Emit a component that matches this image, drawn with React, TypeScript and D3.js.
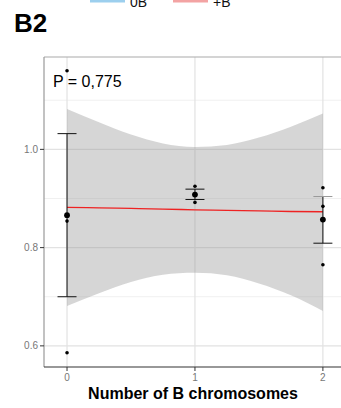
import * as d3 from "d3";

// Number of B chromosomes per group, individual values
const groups = [0, 1, 2];
const points0 = [1.16, 0.866, 0.854, 0.586];
const points1 = [0.925, 0.908, 0.892];
const points2 = [0.922, 0.884, 0.857, 0.765];

// group means and error bars (mean ± SE)
const means = [0.866, 0.908, 0.857];
const errLow = [0.7, 0.898, 0.809];
const errHigh = [1.032, 0.919, 0.904];

// regression line and its confidence band
const fitX = [0, 0.25, 0.5, 0.75, 1, 1.25, 1.5, 1.75, 2];
const fitY = [0.882, 0.881, 0.8797, 0.8785, 0.877, 0.876, 0.8748, 0.8735, 0.873];
const bandLow = [0.681, 0.707, 0.73, 0.745, 0.749, 0.744, 0.727, 0.703, 0.671];
const bandHigh = [1.082, 1.055, 1.03, 1.012, 1.005, 1.009, 1.024, 1.046, 1.073];

const yMajor = [0.6, 0.8, 1.0];
const yMinor = [0.7, 0.9, 1.1];
const pLabel = "P = 0,775";

const W = 341;
const H = 408;
const left = 44;
const right = 360;
const top = 57;
const bottom = 367;

export default function App() {
  const x = d3.scaleLinear().domain([-0.18, 2.29]).range([left, right]);
  const y = d3.scaleLinear().domain([0.557, 1.188]).range([bottom, top]);

  const band = d3
    .area<number>()
    .x((_, i) => x(fitX[i]))
    .y0((_, i) => y(bandLow[i]))
    .y1((_, i) => y(bandHigh[i]))
    .curve(d3.curveMonotoneX);
  const line = d3
    .line<number>()
    .x((_, i) => x(fitX[i]))
    .y((d) => y(d))
    .curve(d3.curveMonotoneX);

  const allPoints = [points0, points1, points2];
  const cap = 9.5;

  return (
    <svg
      width={W}
      height={H}
      style={{ position: "absolute", left: 0, top: 0, fontFamily: "Liberation Sans, Arial, sans-serif" }}
    >
      <rect width={W} height={H} fill="#fff" />
      {/* legend, cut at the top */}
      <line x1={90} x2={125} y1={1} y2={1} stroke="#9ccfee" strokeWidth={3} />
      <text x={130} y={7} fontSize={14} fill="#111">0B</text>
      <line x1={173} x2={208} y1={1} y2={1} stroke="#f3a3a3" strokeWidth={3} />
      <text x={213} y={7} fontSize={14} fill="#111">+B</text>

      <text x={14} y={32} fontSize={26} fontWeight="bold" fill="#000">B2</text>

      {/* grid */}
      {yMinor.map((v) => (
        <line key={"mn" + v} x1={left} x2={W} y1={y(v)} y2={y(v)} stroke="#f0f0f0" strokeWidth={1} />
      ))}
      {yMajor.map((v) => (
        <line key={"mj" + v} x1={left} x2={W} y1={y(v)} y2={y(v)} stroke="#e2e2e2" strokeWidth={1.2} />
      ))}
      {groups.map((g) => (
        <line key={"gx" + g} x1={x(g)} x2={x(g)} y1={top} y2={bottom} stroke="#e2e2e2" strokeWidth={1.2} />
      ))}

      {/* confidence band and fit */}
      <path d={band(fitX) ?? ""} fill="#999" fillOpacity={0.4} />
      <path d={line(fitY) ?? ""} fill="none" stroke="#ee2222" strokeWidth={1.3} />

      {/* error bars */}
      {groups.map((g, i) => (
        <g key={"eb" + g} stroke="#111" strokeWidth={1}>
          <line x1={x(g)} x2={x(g)} y1={y(errHigh[i])} y2={y(errLow[i])} />
          <line x1={x(g) - cap} x2={x(g) + cap} y1={y(errHigh[i])} y2={y(errHigh[i])} stroke={i === 2 ? "#999" : "#111"} />
          <line x1={x(g) - cap} x2={x(g) + cap} y1={y(errLow[i])} y2={y(errLow[i])} />
        </g>
      ))}

      {/* points */}
      {allPoints.map((pts, i) =>
        pts.map((v, j) => <circle key={`p${i}-${j}`} cx={x(groups[i])} cy={y(v)} r={1.8} fill="#000" />)
      )}
      {means.map((m, i) => (
        <circle key={"m" + i} cx={x(groups[i])} cy={y(m)} r={2.9} fill="#000" />
      ))}

      {/* panel border and axes */}
      <line x1={left} x2={W} y1={top} y2={top} stroke="#aaa" strokeWidth={1.2} />
      <line x1={left} x2={left} y1={top} y2={bottom} stroke="#999" strokeWidth={1.2} />
      <line x1={left} x2={W} y1={bottom} y2={bottom} stroke="#333" strokeWidth={1.2} />

      {yMajor.map((v) => (
        <g key={"yt" + v}>
          <line x1={left - 4} x2={left} y1={y(v)} y2={y(v)} stroke="#333" />
          <text x={left - 6} y={y(v)} dy="0.35em" textAnchor="end" fontSize={10} fill="#777">
            {v.toFixed(1)}
          </text>
        </g>
      ))}
      {groups.map((g) => (
        <g key={"xt" + g}>
          <line x1={x(g)} x2={x(g)} y1={bottom} y2={bottom + 4} stroke="#333" />
          <text x={x(g)} y={381} textAnchor="middle" fontSize={10} fill="#777">
            {g}
          </text>
        </g>
      ))}

      <text x={53} y={87} fontSize={16} fill="#000">{pLabel}</text>
      <text x={193} y={399} textAnchor="middle" fontSize={16} fontWeight="bold" fill="#000">
        Number of B chromosomes
      </text>
    </svg>
  );
}
